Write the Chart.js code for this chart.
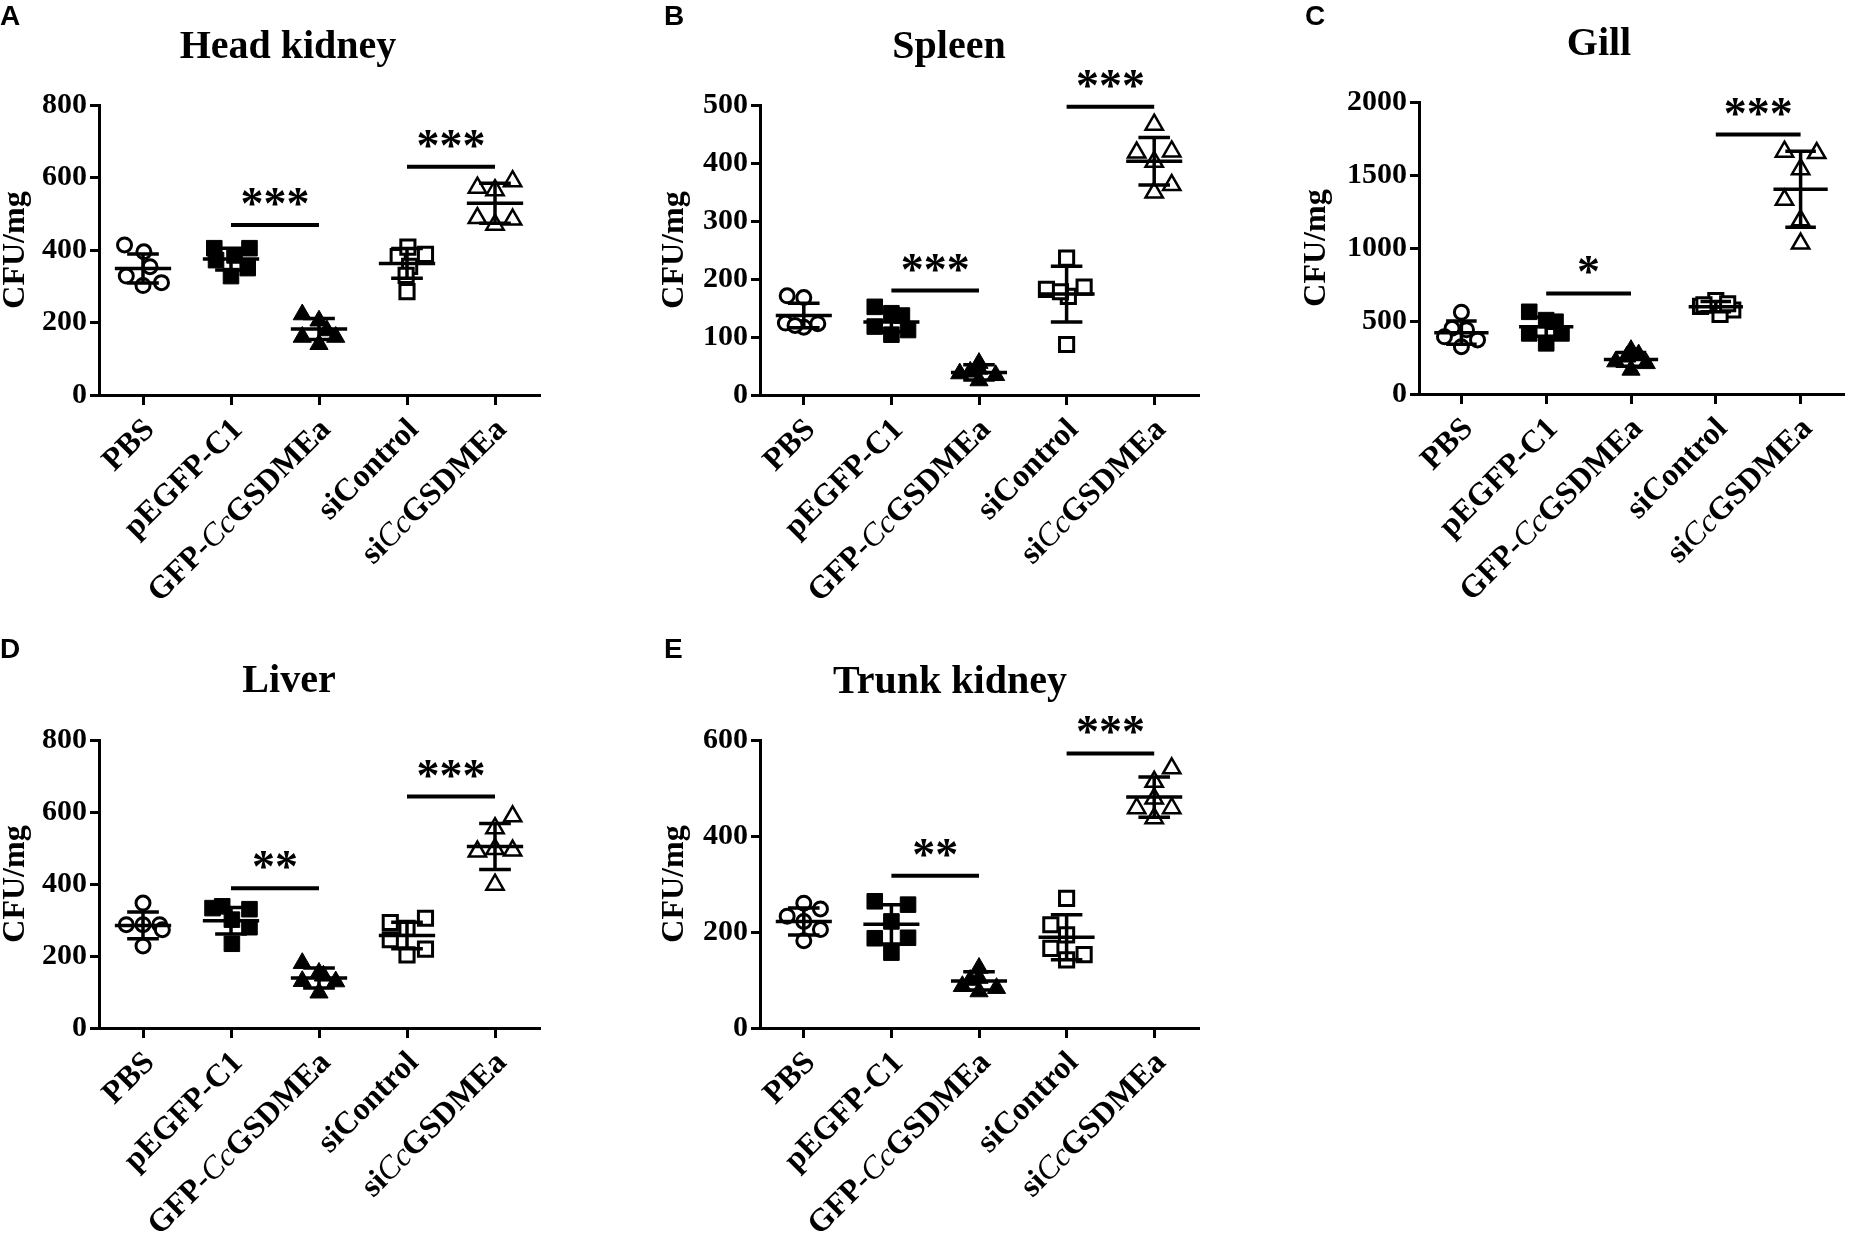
<!DOCTYPE html>
<html>
<head>
<meta charset="utf-8">
<script src="https://cdn.jsdelivr.net/npm/chart.js@4.4.1/dist/chart.umd.min.js"></script>
<style>
  html, body { margin: 0; padding: 0; background: #fff; }
  body { width: 1856px; height: 1233px; position: relative; overflow: hidden; }
  canvas { position: absolute; }
</style>
</head>
<body>
<canvas id="panelA" width="620" height="620" style="left:0px;top:0px"></canvas>
<canvas id="panelB" width="620" height="620" style="left:620px;top:0px"></canvas>
<canvas id="panelC" width="616" height="620" style="left:1240px;top:0px"></canvas>
<canvas id="panelD" width="620" height="613" style="left:0px;top:620px"></canvas>
<canvas id="panelE" width="620" height="613" style="left:620px;top:620px"></canvas>
<script>
// Groups (x categories); italic parts of the labels are flagged
const groups = ["PBS", "pEGFP-C1", "GFP-CcGSDMEa", "siControl", "siCcGSDMEa"];
const groupLabelParts = [
  [["PBS", false]],
  [["pEGFP-C1", false]],
  [["GFP-", false], ["Cc", true], ["GSDMEa", false]],
  [["siControl", false]],
  [["si", false], ["Cc", true], ["GSDMEa", false]],
];

// Head kidney (A)
const headKidneyValues = [
  [414, 395, 328, 354, 302, 310],
  [405, 405, 385, 372, 350, 328],
  [222, 205, 178, 160, 140, 160],
  [382, 408, 388, 355, 330, 285],
  [572, 590, 565, 488, 484, 470],
];
const headKidneyJitter = [
  [-0.21, 0.01, -0.19, 0.08, 0, 0.21],
  [-0.19, 0.21, 0.04, -0.17, 0.19, 0],
  [-0.19, 0, 0.09, -0.19, 0, 0.19],
  [-0.1, 0.01, 0.21, 0.03, -0.01, 0],
  [-0.2, 0.2, 0, -0.2, 0.2, 0],
];
const headKidneyMean = [349, 375, 182, 363, 529];
const headKidneySD = [40, 30, 29, 41, 55];
const headKidneySig = [[1, 2, 469, "***"], [3, 4, 630, "***"]];

// Spleen (B)
const spleenValues = [
  [171, 168, 124, 117, 123, 120],
  [152, 141, 137, 118, 104, 112],
  [55, 45, 37, 34, 25, 40],
  [236, 182, 170, 186, 178, 87],
  [466, 418, 420, 402, 349, 362],
];
const spleenJitter = [
  [-0.19, 0, -0.21, 0, 0.16, -0.1],
  [-0.19, 0, 0.12, -0.19, 0, 0.19],
  [0, 0, -0.22, 0.19, 0, -0.1],
  [0, -0.23, 0.02, 0.2, -0.07, 0],
  [0, -0.2, 0.2, 0, 0, 0.2],
];
const spleenMean = [137, 126, 39, 174, 403];
const spleenSD = [21, 17, 13, 48, 41];
const spleenSig = [[1, 2, 180, "***"], [3, 4, 497, "***"]];

// Gill (C)
const gillValues = [
  [560, 450, 440, 392, 370, 324],
  [563, 506, 495, 415, 415, 347],
  [300, 255, 222, 210, 165, 270],
  [600, 640, 575, 545, 610, 618],
  [1660, 1650, 1540, 1330, 1190, 1030],
];
const gillJitter = [
  [0, -0.11, 0.06, -0.2, 0.19, 0],
  [-0.2, 0, 0.11, -0.2, 0.18, 0],
  [0, -0.05, -0.18, 0.18, 0, 0.09],
  [-0.18, 0, 0.2, 0.05, -0.14, 0.14],
  [-0.19, 0.19, 0, -0.19, 0, 0],
];
const gillMean = [420, 461, 237, 598, 1402];
const gillSD = [80, 65, 47, 35, 260];
const gillSig = [[1, 2, 689, "*"], [3, 4, 1777, "***"]];

// Liver (D)
const liverValues = [
  [347, 287, 287, 287, 273, 228],
  [333, 338, 330, 301, 280, 234],
  [180, 153, 130, 129, 98, 145],
  [293, 305, 277, 245, 219, 203],
  [588, 555, 490, 497, 493, 398],
];
const liverJitter = [
  [0, -0.19, 0, 0.19, 0.22, 0],
  [-0.21, -0.1, 0.21, 0.01, 0.21, 0.01],
  [-0.19, 0, -0.19, 0.19, 0, 0.05],
  [-0.19, 0.21, 0, -0.19, 0.21, 0],
  [0.2, 0, -0.2, 0, 0.2, 0],
];
const liverMean = [285, 298, 139, 257, 504];
const liverSD = [37, 37, 28, 37, 64];
const liverSig = [[1, 2, 388, "**"], [3, 4, 643, "***"]];

// Trunk kidney (E)
const trunkKidneyValues = [
  [260, 233, 248, 222, 205, 182],
  [264, 257, 222, 187, 188, 157],
  [125, 104, 100, 87, 83, 76],
  [270, 215, 194, 166, 142, 153],
  [541, 513, 478, 458, 458, 437],
];
const trunkKidneyJitter = [
  [0, -0.19, 0.19, 0, 0.19, 0],
  [-0.19, 0.19, 0, -0.19, 0.19, 0],
  [0, 0, -0.1, -0.19, 0.2, 0],
  [0, -0.18, 0, -0.18, 0, 0.2],
  [0.2, 0, 0, -0.2, 0.2, 0],
];
const trunkKidneyMean = [222, 216, 98, 189, 481];
const trunkKidneySD = [28, 41, 19, 47, 42];
const trunkKidneySig = [[1, 2, 317, "**"], [3, 4, 572, "***"]];

const SERIF = "'Liberation Serif', 'Times New Roman', serif";
const SANS = "'Liberation Sans', Arial, sans-serif";

// marker per group: open circle, filled square, filled triangle, open square, open triangle
const markers = [
  { pointStyle: "circle", radius: 7, fill: "#fff", border: 3 },
  { pointStyle: "rect", radius: 11, fill: "#000", border: 1 },
  { pointStyle: "triangle", radius: 10.5, fill: "#000", border: 1 },
  { pointStyle: "rect", radius: 10, fill: "#fff", border: 3 },
  { pointStyle: "triangle", radius: 10, fill: "#fff", border: 2.5 },
];

const decorPlugin = {
  id: "decor",
  afterDatasetsDraw(chart, args, opts) {
    // mean +/- SD
    const { ctx } = chart;
    const x = chart.scales.x, y = chart.scales.y;
    ctx.save();
    ctx.strokeStyle = "#000";
    ctx.lineWidth = 3.5;
    opts.means.forEach((m, g) => {
      const cx = x.getPixelForValue(g);
      const my = y.getPixelForValue(m);
      const hi = y.getPixelForValue(m + opts.sds[g]);
      const lo = y.getPixelForValue(m - opts.sds[g]);
      const mw = x.getPixelForValue(g + 0.32) - cx;
      const cw = x.getPixelForValue(g + 0.18) - cx;
      ctx.beginPath();
      ctx.moveTo(cx - mw, my); ctx.lineTo(cx + mw, my);
      ctx.moveTo(cx, hi); ctx.lineTo(cx, lo);
      ctx.moveTo(cx - cw, hi); ctx.lineTo(cx + cw, hi);
      ctx.moveTo(cx - cw, lo); ctx.lineTo(cx + cw, lo);
      ctx.stroke();
    });
    ctx.restore();
  },
  afterDraw(chart, args, opts) {
    const { ctx } = chart;
    const x = chart.scales.x, y = chart.scales.y;
    ctx.save();
    ctx.fillStyle = "#000";
    ctx.strokeStyle = "#000";

    // significance bars
    opts.sig.forEach(([a, b, v, stars]) => {
      const x1 = x.getPixelForValue(a), x2 = x.getPixelForValue(b);
      const py = y.getPixelForValue(v);
      ctx.lineWidth = 4;
      ctx.beginPath();
      ctx.moveTo(x1, py); ctx.lineTo(x2, py);
      ctx.stroke();
      ctx.font = "bold 46px " + SERIF;
      ctx.textAlign = "center";
      ctx.textBaseline = "alphabetic";
      ctx.fillText(stars, (x1 + x2) / 2, py - 6);
    });

    // rotated category labels with italic species code
    groupLabelParts.forEach((parts, g) => {
      const px = x.getPixelForValue(g);
      ctx.save();
      ctx.translate(px + 7, x.top + 30);
      ctx.rotate(-Math.PI / 4);
      const fonts = parts.map(([, it]) => (it ? "italic 32px " : "bold 32px ") + SERIF);
      const widths = parts.map(([t], i) => { ctx.font = fonts[i]; return ctx.measureText(t).width; });
      let cur = -widths.reduce((s, w) => s + w, 0);
      ctx.textAlign = "left";
      ctx.textBaseline = "middle";
      parts.forEach(([t], i) => {
        ctx.font = fonts[i];
        ctx.fillText(t, cur, 0);
        cur += widths[i];
      });
      ctx.restore();
    });

    // panel title and letter
    ctx.textAlign = "center";
    ctx.textBaseline = "alphabetic";
    ctx.font = "bold 40px " + SERIF;
    ctx.fillText(opts.title, opts.titleX, opts.titleY);
    ctx.textAlign = "left";
    ctx.font = "bold 28px " + SANS;
    ctx.fillText(opts.letter, opts.letterX, opts.letterY);
    ctx.restore();
  },
};

function makePanel(id, cfg) {
  const canvas = document.getElementById(id);
  const W = canvas.width, H = canvas.height;
  const datasets = cfg.values.map((vals, g) => ({
    label: groups[g],
    data: vals.map((v, k) => ({ x: g + cfg.jitter[g][k], y: v })),
    pointStyle: markers[g].pointStyle,
    pointRadius: markers[g].radius,
    pointBackgroundColor: markers[g].fill,
    pointBorderColor: "#000",
    pointBorderWidth: markers[g].border,
    showLine: false,
    clip: false,
  }));

  return new Chart(canvas, {
    type: "scatter",
    data: { datasets },
    options: {
      responsive: false,
      animation: false,
      events: [],
      layout: { padding: { left: 0, top: cfg.area.top, right: W - cfg.area.right, bottom: 0 } },
      scales: {
        x: {
          type: "linear",
          min: -0.5,
          max: 4.5,
          afterBuildTicks: (s) => { s.ticks = groups.map((_, i) => ({ value: i })); },
          afterFit: (s) => { s.height = H - cfg.area.bottom; },
          ticks: { display: false },
          grid: { drawOnChartArea: false, drawTicks: true, tickLength: 10, color: "#000", lineWidth: 3 },
          border: { display: true, color: "#000", width: 3 },
        },
        y: {
          min: 0,
          max: cfg.yMax,
          afterFit: (s) => { s.width = cfg.area.left; },
          ticks: {
            stepSize: cfg.yStep,
            color: "#000",
            padding: 3,
            font: { family: SERIF, size: 30, weight: "bold" },
            callback: (v) => String(v),
          },
          grid: { drawOnChartArea: false, drawTicks: true, tickLength: 9, color: "#000", lineWidth: 3 },
          border: { display: true, color: "#000", width: 3 },
          title: {
            display: true,
            text: "CFU/mg",
            color: "#000",
            font: { family: SERIF, size: 32, weight: "bold", lineHeight: 1 },
            padding: { top: cfg.yTitleOffset - 16, bottom: 0 },
          },
        },
      },
      plugins: {
        legend: { display: false },
        tooltip: { enabled: false },
        decor: {
          means: cfg.mean,
          sds: cfg.sd,
          sig: cfg.sig,
          title: cfg.title,
          titleX: cfg.titleX,
          titleY: cfg.titleY,
          letter: cfg.letter,
          letterX: cfg.letterX,
          letterY: cfg.letterY,
        },
      },
    },
    plugins: [decorPlugin],
  });
}

makePanel("panelA", {
  values: headKidneyValues, jitter: headKidneyJitter, mean: headKidneyMean, sd: headKidneySD, sig: headKidneySig,
  area: { left: 99, top: 105, right: 539, bottom: 395 }, yMax: 800, yStep: 200, yTitleOffset: 16,
  title: "Head kidney", titleX: 288, titleY: 58, letter: "A", letterX: 0, letterY: 25,
});
makePanel("panelB", {
  values: spleenValues, jitter: spleenJitter, mean: spleenMean, sd: spleenSD, sig: spleenSig,
  area: { left: 140, top: 105, right: 578, bottom: 395 }, yMax: 500, yStep: 100, yTitleOffset: 55,
  title: "Spleen", titleX: 329, titleY: 58, letter: "B", letterX: 44, letterY: 25,
});
makePanel("panelC", {
  values: gillValues, jitter: gillJitter, mean: gillMean, sd: gillSD, sig: gillSig,
  area: { left: 179, top: 102, right: 616, bottom: 394 }, yMax: 2000, yStep: 500, yTitleOffset: 77,
  title: "Gill", titleX: 359, titleY: 55, letter: "C", letterX: 65, letterY: 25,
});
makePanel("panelD", {
  values: liverValues, jitter: liverJitter, mean: liverMean, sd: liverSD, sig: liverSig,
  area: { left: 99, top: 120, right: 539, bottom: 408 }, yMax: 800, yStep: 200, yTitleOffset: 16,
  title: "Liver", titleX: 289, titleY: 72, letter: "D", letterX: 0, letterY: 38,
});
makePanel("panelE", {
  values: trunkKidneyValues, jitter: trunkKidneyJitter, mean: trunkKidneyMean, sd: trunkKidneySD, sig: trunkKidneySig,
  area: { left: 140, top: 120, right: 578, bottom: 408 }, yMax: 600, yStep: 200, yTitleOffset: 55,
  title: "Trunk kidney", titleX: 330, titleY: 73, letter: "E", letterX: 44, letterY: 38,
});
</script>
</body>
</html>
